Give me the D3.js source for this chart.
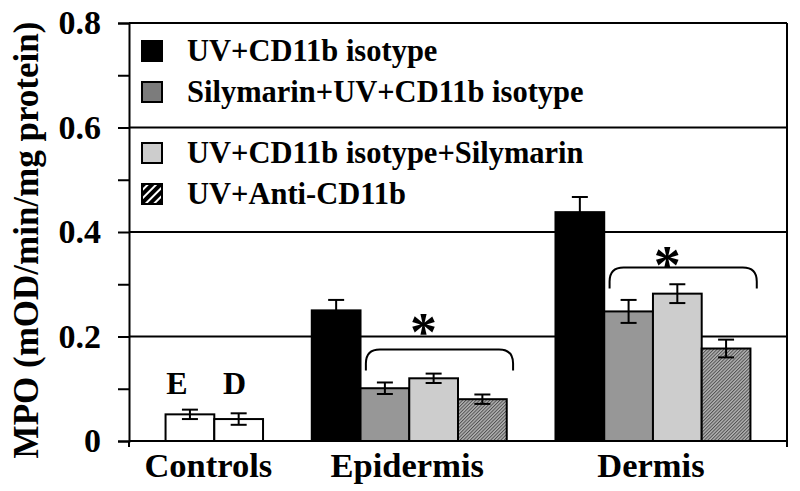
<!DOCTYPE html>
<html><head><meta charset="utf-8">
<script src="https://cdn.jsdelivr.net/npm/d3@7/dist/d3.min.js"></script>
<style>
html,body{margin:0;padding:0;background:#fff;}
svg{display:block;}
text{font-family:"Liberation Serif","Times New Roman",serif;font-weight:bold;fill:#000;}
</style></head>
<body><svg id="chart" width="800" height="491"></svg>
<script>
// ---- data ----
const categories = ["Controls", "Epidermis", "Dermis"];
const controlLabels = ["E", "D"];
const controlValues = [0.051, 0.042];
const controlErrors = [0.009, 0.011];
const seriesNames = ["UV+CD11b isotype", "Silymarin+UV+CD11b isotype", "UV+CD11b isotype+Silymarin", "UV+Anti-CD11b"];
const epidermisValues = [0.250, 0.101, 0.120, 0.080];
const epidermisErrors = [0.020, 0.011, 0.009, 0.009];
const dermisValues = [0.438, 0.248, 0.282, 0.177];
const dermisErrors = [0.029, 0.022, 0.018, 0.017];
const yTicks = [0, 0.1, 0.2, 0.3, 0.4, 0.5, 0.6, 0.7, 0.8];
const yLabelTicks = [0, 0.2, 0.4, 0.6, 0.8];
const yTitle = "MPO (mOD/min/mg protein)";
const bracketTops = [0.175, 0.332];   // Epidermis, Dermis
const asteriskLevels = [0.225, 0.355];

// ---- layout ----
const svg = d3.select("#chart");
const pLeft = 129, pRight = 787, pTop = 23, pBottom = 441;

const slotIds = ["c0","c1","g1","e0","e1","e2","e3","g2","d0","d1","d2","d3"];
const x = d3.scaleBand().domain(slotIds).range([pLeft, pRight]).paddingInner(0).paddingOuter(0.75);
const y = d3.scaleLinear().domain([0, 0.8]).range([pBottom, pTop]);
const bw = x.bandwidth();

const defs = svg.append("defs");
const hp = defs.append("pattern").attr("id","hatch").attr("patternUnits","userSpaceOnUse")
  .attr("width",2.4).attr("height",2.4).attr("patternTransform","rotate(45)");
hp.append("rect").attr("width",2.4).attr("height",2.4).attr("fill","#b4b4b4");
hp.append("rect").attr("width",1.0).attr("height",2.4).attr("fill","#505050");
const hl = defs.append("pattern").attr("id","hatchLegend").attr("patternUnits","userSpaceOnUse")
  .attr("width",6).attr("height",6).attr("patternTransform","rotate(45)");
hl.append("rect").attr("width",6).attr("height",6).attr("fill","#000");
hl.append("rect").attr("width",2.0).attr("height",6).attr("fill","#fff");

const barFills = ["#000000", "#979797", "#cdcdcd", "url(#hatch)"];
const legendFills = ["#000000", "#7c7c7c", "#cdcdcd", "url(#hatchLegend)"];

// gridlines and frame
svg.append("g").selectAll("line").data(yLabelTicks.filter(d => d > 0)).join("line")
  .attr("x1", pLeft).attr("x2", pRight).attr("y1", d => y(d)).attr("y2", d => y(d))
  .attr("stroke","#000").attr("stroke-width",2);
svg.append("line").attr("x1", pRight).attr("x2", pRight).attr("y1", y(0.8)).attr("y2", pBottom + 6)
  .attr("stroke","#000").attr("stroke-width",2);

// bars
const bars = [];
controlValues.forEach((v,i) => bars.push({slot:"c"+i, v, e:controlErrors[i], fill:"#fff"}));
epidermisValues.forEach((v,i) => bars.push({slot:"e"+i, v, e:epidermisErrors[i], fill:barFills[i]}));
dermisValues.forEach((v,i) => bars.push({slot:"d"+i, v, e:dermisErrors[i], fill:barFills[i]}));

svg.append("g").selectAll("rect").data(bars).join("rect")
  .attr("x", d => x(d.slot)).attr("width", bw)
  .attr("y", d => y(d.v)).attr("height", d => y(0) - y(d.v))
  .attr("fill", d => d.fill).attr("stroke","#000").attr("stroke-width",2);

// error bars
const eg = svg.append("g").attr("stroke","#000").attr("stroke-width",2);
bars.forEach(d => {
  const cx = x(d.slot) + bw/2;
  eg.append("line").attr("x1",cx).attr("x2",cx).attr("y1",y(d.v+d.e)).attr("y2",y(d.v-d.e));
  [d.v+d.e, d.v-d.e].forEach(val => {
    eg.append("line").attr("x1",cx-8).attr("x2",cx+8).attr("y1",y(val)).attr("y2",y(val));
  });
});

// x axis
svg.append("line").attr("x1",pLeft).attr("x2",pRight).attr("y1",pBottom).attr("y2",pBottom)
  .attr("stroke","#000").attr("stroke-width",2);
svg.append("line").attr("x1",pLeft).attr("x2",pLeft).attr("y1",pBottom).attr("y2",pBottom+6)
  .attr("stroke","#000").attr("stroke-width",2);

// y axis
const yAxis = d3.axisLeft(y).tickValues(yTicks).tickSize(11).tickPadding(17)
  .tickFormat(d => yLabelTicks.some(t => Math.abs(t-d) < 1e-9) ? (d === 0 ? "0" : d3.format(".1f")(d)) : "");
const ya = svg.append("g").attr("transform",`translate(${pLeft},0)`).call(yAxis);
ya.select(".domain").attr("stroke","#000").attr("stroke-width",2);
ya.selectAll(".tick line").attr("stroke","#000").attr("stroke-width",2);
ya.selectAll(".tick text").attr("font-size",34).attr("font-family",'"Liberation Serif","Times New Roman",serif').attr("font-weight","bold").attr("fill","#000");

// y title
svg.append("text").attr("transform",`translate(38,${(pTop+pBottom)/2+8}) rotate(-90)`)
  .attr("text-anchor","middle").attr("font-size",35).text(yTitle);

// category labels
const groupSlots = [["c0","c1"],["e0","e3"],["d0","d3"]];
svg.append("g").selectAll("text").data(categories).join("text")
  .attr("x", (d,i) => (x(groupSlots[i][0]) + x(groupSlots[i][1]) + bw)/2 - (i===0 ? 6 : 2))
  .attr("y", 477).attr("text-anchor","middle").attr("font-size",34.5).text(d => d);

// E / D labels
const edOffsets = [-13, -4];
svg.append("g").selectAll("text").data(controlLabels).join("text")
  .attr("x", (d,i) => x("c"+i) + bw/2 + edOffsets[i])
  .attr("y", 394).attr("text-anchor","middle").attr("font-size",32).text(d => d);

// brackets + asterisks
const bracketSlots = [["e1","e3"],["d1","d3"]];
bracketSlots.forEach((s,i) => {
  const x0 = x(s[0]) + bw*0.11, x1 = x(s[1]) + bw*1.13;
  const yt = y(bracketTops[i]), yb = yt + 21, r = 14;
  const p = `M${x0},${yb} L${x0},${yt+r} Q${x0},${yt} ${x0+r},${yt} L${x1-r},${yt} Q${x1},${yt} ${x1},${yt+r} L${x1},${yb}`;
  svg.append("path").attr("d",p).attr("fill","none").attr("stroke","#000").attr("stroke-width",2);
  svg.append("text").attr("x",(x0+x1)/2 - 16).attr("y", y(asteriskLevels[i]) + 27)
    .attr("text-anchor","middle").attr("font-size",54).text("*");
});

// legend
const lg = svg.append("g");
seriesNames.forEach((name,i) => {
  const ry = 41 + i*41 + (i >= 2 ? 20 : 0);
  lg.append("rect").attr("x",142).attr("y",ry).attr("width",20).attr("height",20)
    .attr("fill",legendFills[i]).attr("stroke","#000").attr("stroke-width",2);
  lg.append("text").attr("x",187).attr("y",ry+20).attr("font-size",30.5).text(name);
});
</script></body></html>
